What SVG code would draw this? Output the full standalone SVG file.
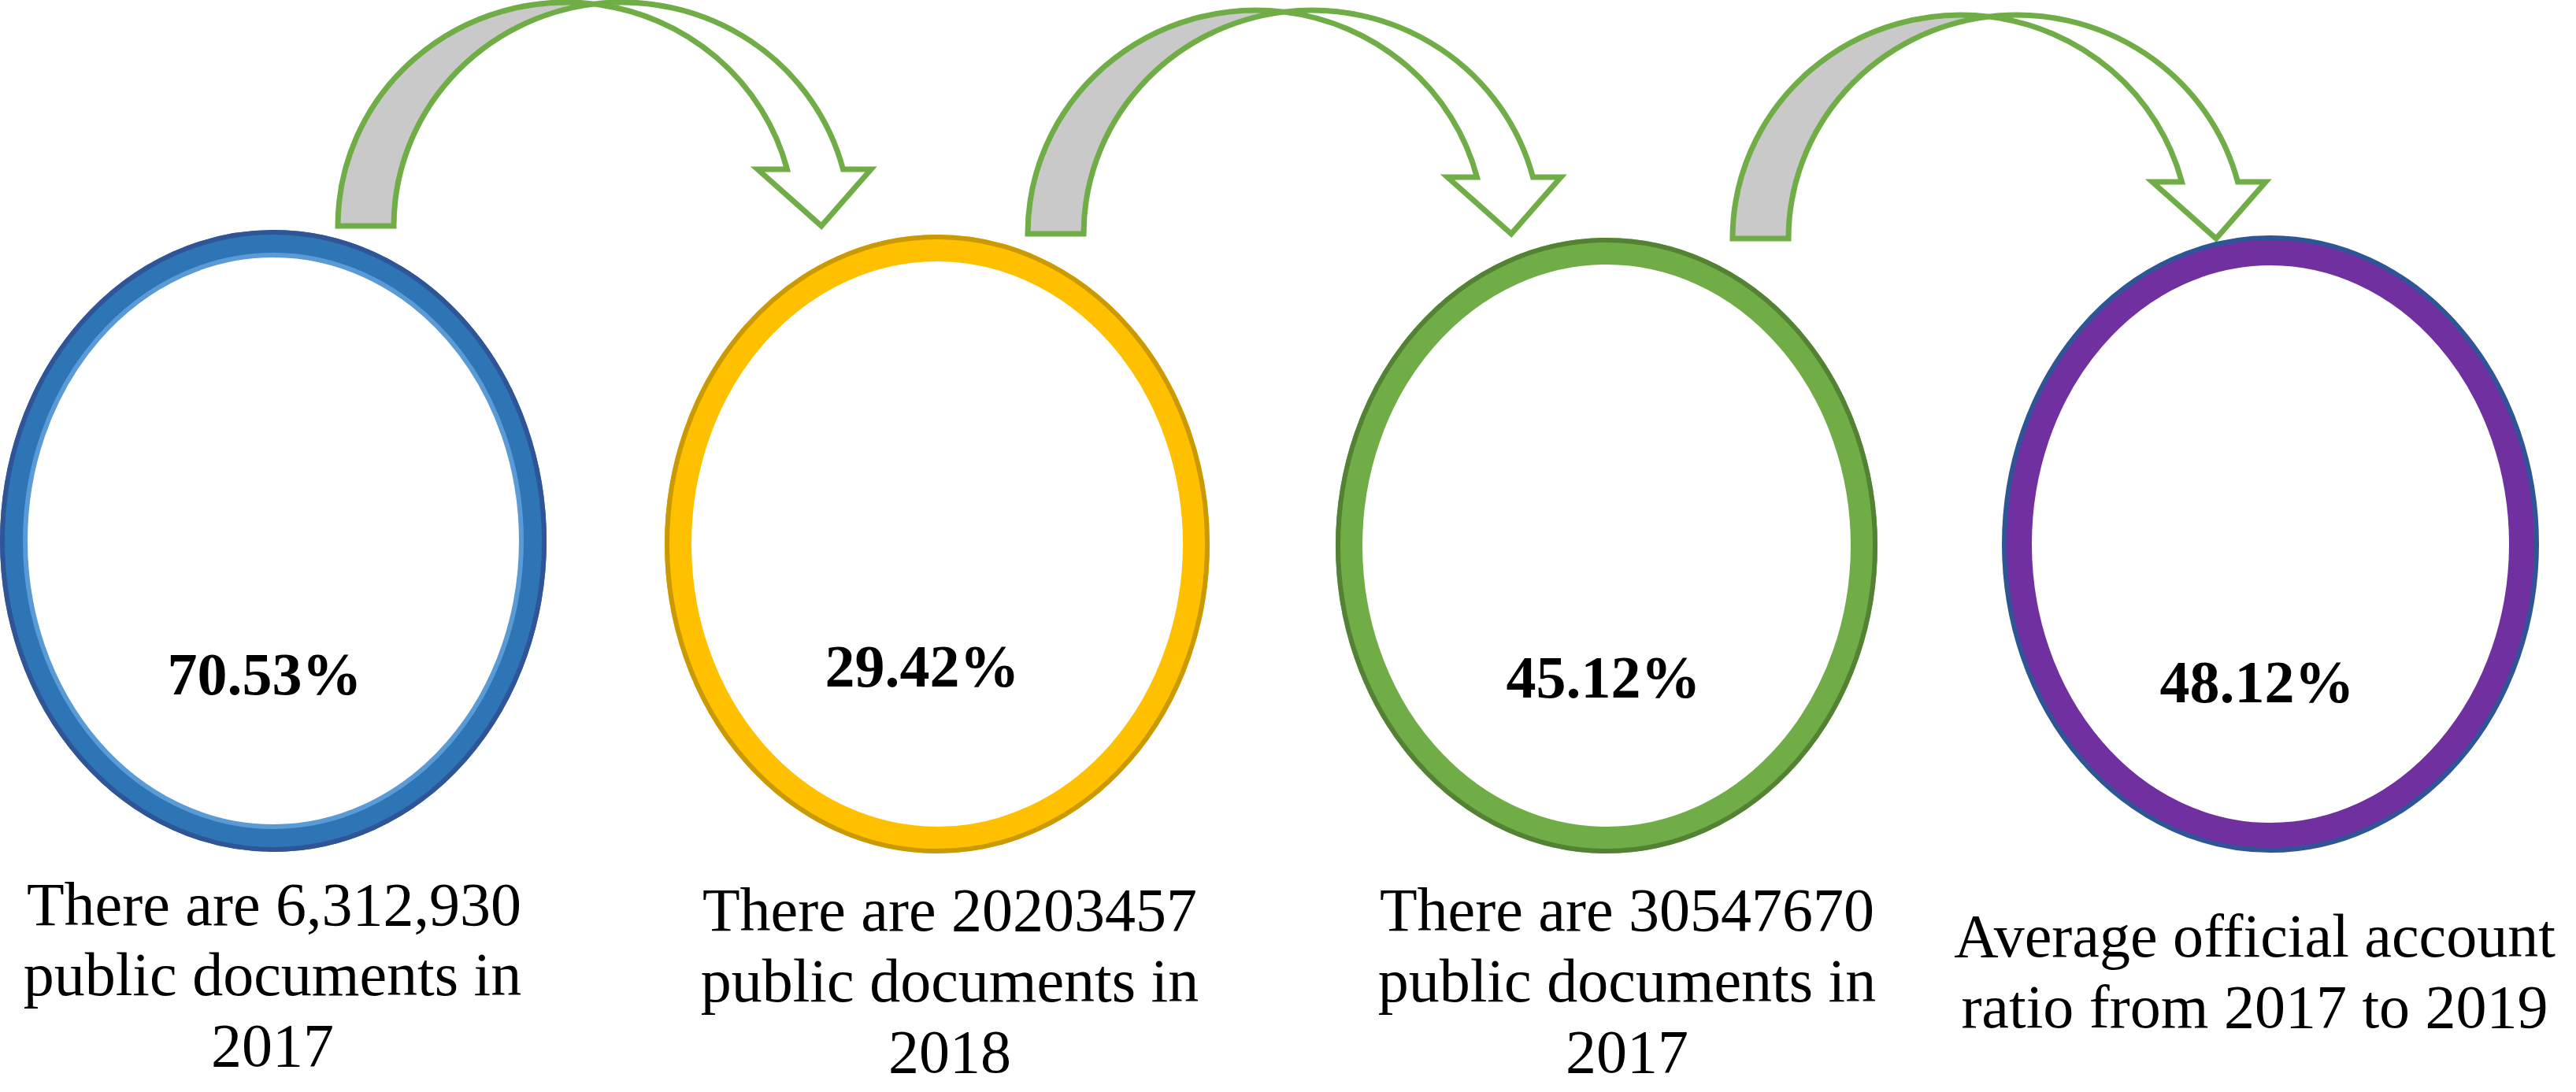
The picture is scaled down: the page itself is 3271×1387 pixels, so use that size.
<svg xmlns="http://www.w3.org/2000/svg" xmlns:xlink="http://www.w3.org/1999/xlink" width="3271" height="1387" viewBox="0 0 3271 1387">
  <style>
    .pct { font-family: "Liberation Serif", "Times New Roman", serif; font-weight: bold; font-size: 76px; fill: #000; text-anchor: middle; }
    .lbl { font-family: "Liberation Serif", "Times New Roman", serif; font-size: 78px; fill: #000; text-anchor: middle; }
    .back { fill: #c9c9c9; stroke: #70ad47; stroke-width: 7; stroke-linejoin: miter; }
    .front { fill: #ffffff; stroke: #70ad47; stroke-width: 7; stroke-linejoin: miter; }
    .ring { fill: #ffffff; stroke-width: 34; }
    .edge { fill: none; stroke-width: 6; }
  </style>
  <defs>
    <g id="curvedArrow">
      <path class="back" d="M429,287 A290,284 0 0 1 754.5,5.1 A290,284 0 0 0 500,287 Z"/>
      <path class="front" d="M754.5,5.1 A290,284 0 0 1 1070.5,215 L1106,215 L1043,287 L962,215 L999.5,215 A290,284 0 0 0 754.5,5.1 Z"/>
    </g>
  </defs>
  <rect x="0" y="0" width="3271" height="1387" fill="#ffffff"/>

  <g id="connectors">
    <use xlink:href="#curvedArrow" href="#curvedArrow"/>
    <use xlink:href="#curvedArrow" href="#curvedArrow" transform="translate(876,10)"/>
    <use xlink:href="#curvedArrow" href="#curvedArrow" transform="translate(1771,16)"/>
  </g>

  <g id="node1">
    <ellipse class="ring" cx="347" cy="687" rx="330" ry="378" stroke="#2e75b6"/>
    <ellipse class="edge" cx="347" cy="687" rx="344" ry="392" stroke="#2f5597"/>
    <ellipse class="edge" cx="347" cy="687" rx="315" ry="363" stroke="#5b9bd5"/>
    <text class="pct" x="336" y="882">70.53%</text>
  </g>

  <g id="node2">
    <ellipse class="ring" cx="1190" cy="691" rx="329" ry="376" stroke="#ffc000"/>
    <ellipse class="edge" cx="1190" cy="691" rx="343" ry="390" stroke="#c99a06"/>
    <text class="pct" x="1171" y="872">29.42%</text>
  </g>

  <g id="node3">
    <ellipse class="ring" cx="2040" cy="693" rx="327" ry="374" stroke="#70ad47"/>
    <ellipse class="edge" cx="2040" cy="693" rx="341" ry="388" stroke="#548235"/>
    <text class="pct" x="2036" y="886">45.12%</text>
  </g>

  <g id="node4">
    <ellipse class="ring" cx="2883" cy="691" rx="320" ry="371" stroke="#7030a0" stroke-width="40"/>
    <ellipse class="edge" cx="2883" cy="691" rx="338" ry="389" stroke="#2f5597"/>
    <text class="pct" x="2866" y="892">48.12%</text>
  </g>

  <g id="label1">
    <text class="lbl" x="348" y="1175">There are 6,312,930</text>
    <text class="lbl" x="346" y="1264">public documents in</text>
    <text class="lbl" x="346" y="1354">2017</text>
  </g>
  <g id="label2">
    <text class="lbl" x="1206" y="1182">There are 20203457</text>
    <text class="lbl" x="1206" y="1272">public documents in</text>
    <text class="lbl" x="1206" y="1362">2018</text>
  </g>
  <g id="label3">
    <text class="lbl" x="2066" y="1182">There are 30547670</text>
    <text class="lbl" x="2066" y="1272">public documents in</text>
    <text class="lbl" x="2066" y="1362">2017</text>
  </g>
  <g id="label4">
    <text class="lbl" x="2863" y="1215">Average official account</text>
    <text class="lbl" x="2863" y="1305">ratio from 2017 to 2019</text>
  </g>
</svg>
